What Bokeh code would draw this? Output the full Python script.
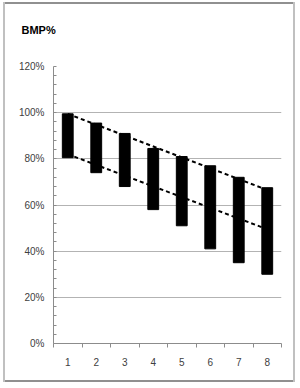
from bokeh.plotting import figure
from bokeh.models import Range1d, FixedTicker, PrintfTickFormatter, ColumnDataSource
from bokeh.embed import file_html
from bokeh.resources import INLINE

# ---- data ----
categories = [1, 2, 3, 4, 5, 6, 7, 8]
tops = [99.5, 95.5, 91, 84.5, 81, 77, 72, 67.5]
bottoms = [80.5, 74, 68, 58, 51, 41, 35, 30]
trend_x = [1, 8]
upper_trend = [99.5, 66.5]
lower_trend = [82, 49.5]
y_ticks = [0, 20, 40, 60, 80, 100, 120]
title_text = "BMP%"

p = figure(width=292, height=392, output_backend="svg", toolbar_location=None,
           x_range=Range1d(0.5, 8.5), y_range=Range1d(0, 120),
           min_border_left=50, min_border_right=14, min_border_top=75, min_border_bottom=39)
p.styles = {"margin-left": "3px", "margin-top": "-10px",
            "box-shadow": ("inset 0 12px 0 0 #ffffff, inset 2px 0 0 0 #c0c0c0, "
                           "inset -2px 0 0 0 #c0c0c0, inset 0 -2px 0 0 #909090, "
                           "inset 0 14px 0 0 #909090")}

p.outline_line_color = None
p.background_fill_color = "white"
p.border_fill_color = None

p.title.text = title_text
p.title.align = "left"
p.title.offset = -32
p.title.standoff = 62
p.title.text_font = "Liberation Sans"
p.title.text_font_size = "11px"
p.title.text_font_style = "bold"
p.title.text_color = "#000000"

src = ColumnDataSource(dict(x=categories, top=tops, bottom=bottoms))
p.vbar(x="x", top="top", bottom="bottom", width=0.38, source=src,
       fill_color="black", line_color="black")

p.line(trend_x, upper_trend, line_color="black", line_width=2, line_dash="4 3")
p.line(trend_x, lower_trend, line_color="black", line_width=2, line_dash="4 3")

# y axis
ya = p.yaxis[0]
ya.ticker = FixedTicker(ticks=y_ticks, minor_ticks=list(range(0, 121, 4)))
ya.formatter = PrintfTickFormatter(format="%d%%")
ya.axis_line_color = "#8c8c8c"
ya.major_tick_line_color = None
ya.major_tick_in = 0
ya.major_tick_out = 0
ya.minor_tick_line_color = "#8c8c8c"
ya.minor_tick_in = 3
ya.minor_tick_out = 0
ya.major_label_standoff = 9
ya.major_label_text_font = "Liberation Sans"
ya.major_label_text_font_size = "10px"
ya.major_label_text_color = "#404040"

# x axis
xa = p.xaxis[0]
xa.ticker = FixedTicker(ticks=categories, minor_ticks=[0.5 + i for i in range(9)])
xa.axis_line_color = "#8c8c8c"
xa.major_tick_line_color = None
xa.major_tick_in = 0
xa.major_tick_out = 0
xa.minor_tick_line_color = "#8c8c8c"
xa.minor_tick_in = 0
xa.minor_tick_out = 4
xa.major_label_standoff = 10
xa.major_label_text_font = "Liberation Sans"
xa.major_label_text_font_size = "10px"
xa.major_label_text_color = "#404040"

p.xgrid.visible = False
p.ygrid.grid_line_color = "#b3b3b3"
p.ygrid.ticker = FixedTicker(ticks=y_ticks)

open("out.html", "w").write(file_html(p, INLINE))
